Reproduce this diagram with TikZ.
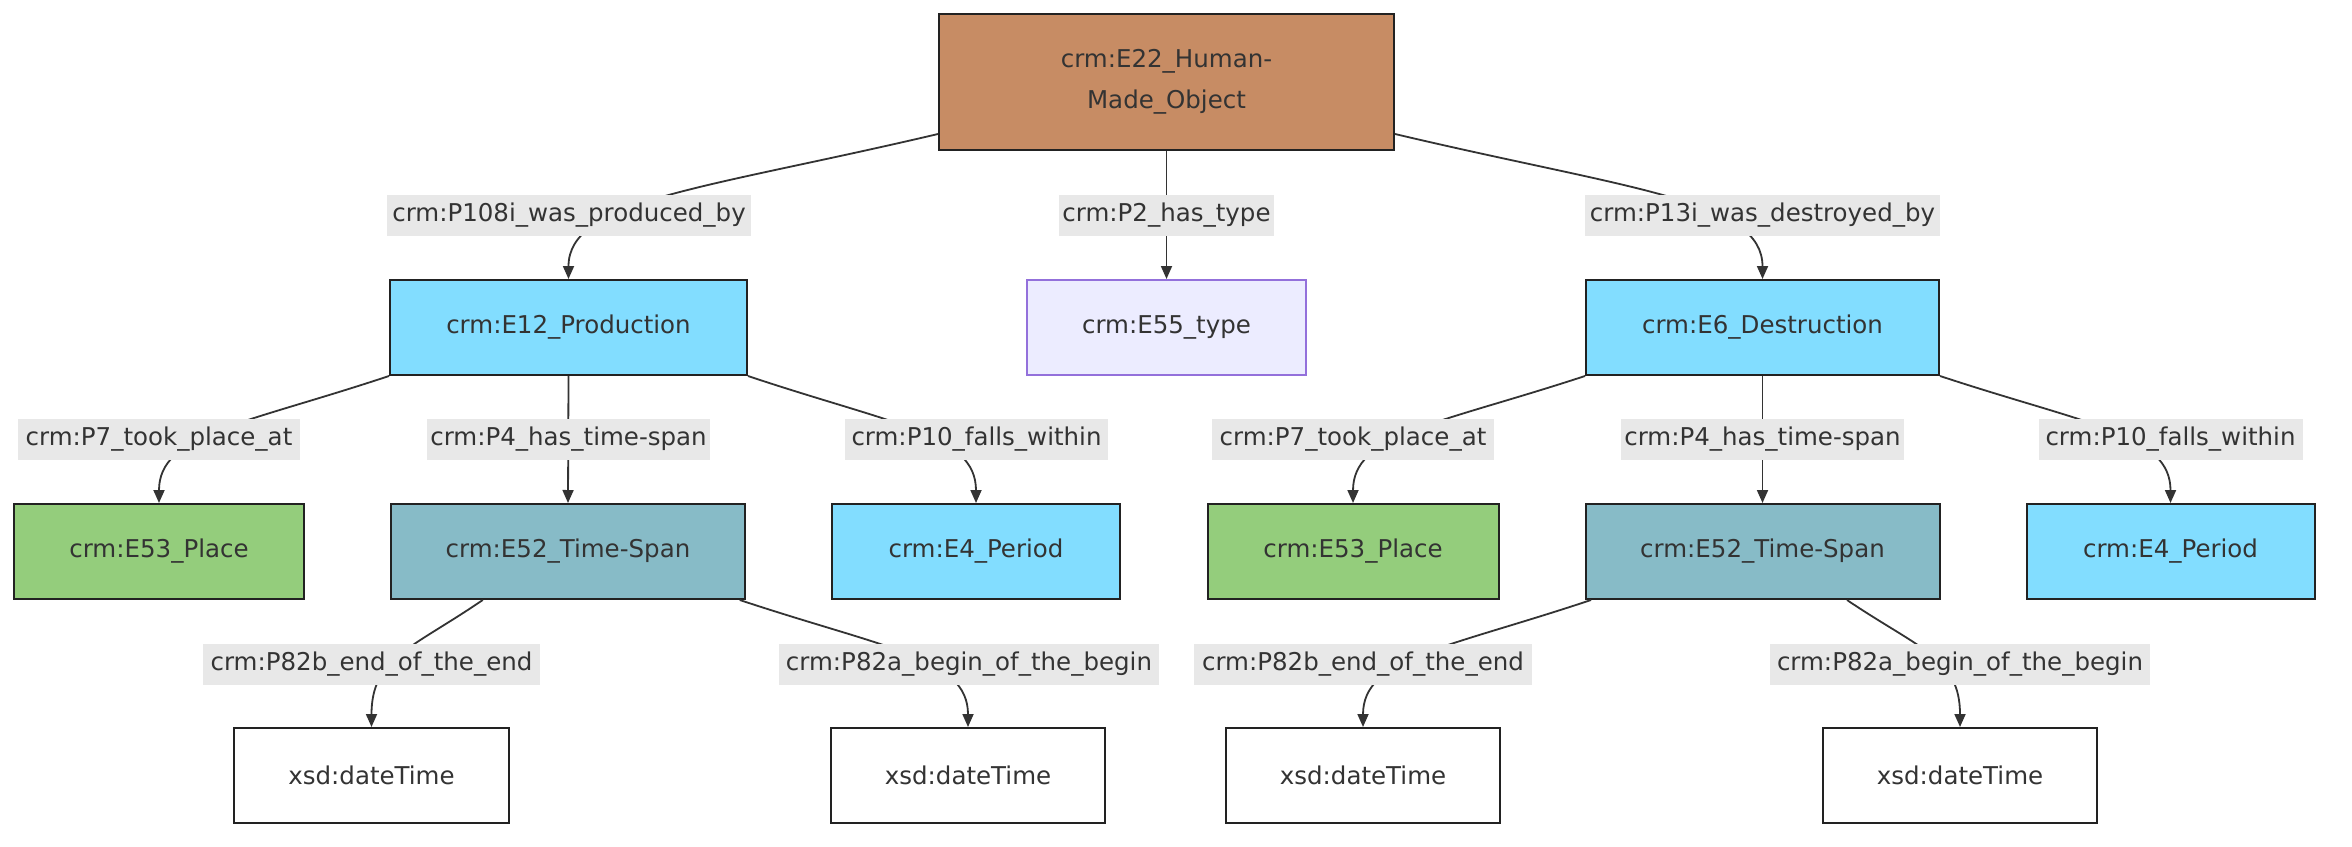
\documentclass[tikz,border=0pt]{standalone}
\usepackage{fontspec}
\setmainfont{DejaVu Sans}
\usetikzlibrary{arrows.meta,calc}
\definecolor{brownE}{HTML}{C78C64}
\definecolor{cyanE}{HTML}{82DDFF}
\definecolor{greenE}{HTML}{94CD7C}
\definecolor{tealE}{HTML}{87BBC7}
\definecolor{lavE}{HTML}{ECECFF}
\definecolor{lavLine}{HTML}{9370DB}
\definecolor{boxline}{HTML}{222222}
\definecolor{txt}{HTML}{333333}
\definecolor{edgec}{HTML}{333333}
\definecolor{lblbg}{HTML}{E8E8E8}
\newcommand{\dfont}{\fontsize{24.5}{41}\selectfont}
\begin{document}
\begin{tikzpicture}[x=1pt,y=-1pt,
  box/.style={draw=boxline, line width=2pt, minimum height=95pt, inner sep=0pt, font=\dfont, text=txt},
  lbl/.style={fill=lblbg, inner sep=0pt, minimum height=41pt, font=\dfont, text=txt},
  edge/.style={draw=edgec, line width=1.8pt, -{Triangle[length=13pt,width=11pt]}}]
\useasboundingbox (0,0) rectangle (2352,846);
\fill[white] (0,0) rectangle (2352,846);
% nodes
\node[box, fill=brownE, minimum width=455pt, minimum height=136pt, align=center] (e22) at (1166.5,82) {crm:E22\_Human-\\Made\_Object};
\node[box, fill=cyanE, minimum width=357pt] (e12) at (568.5,327.5) {crm:E12\_Production};
\node[box, fill=lavE, draw=lavLine, minimum width=279pt] (e55) at (1166.5,327.5) {crm:E55\_type};
\node[box, fill=cyanE, minimum width=353pt] (e6) at (1762.5,327.5) {crm:E6\_Destruction};
\node[box, fill=greenE, minimum width=290.5pt] (pl1) at (159,551.5) {crm:E53\_Place};
\node[box, fill=tealE, minimum width=353.5pt] (ts1) at (568,551.5) {crm:E52\_Time-Span};
\node[box, fill=cyanE, minimum width=287.5pt] (pe1) at (976,551.5) {crm:E4\_Period};
\node[box, fill=greenE, minimum width=291pt] (pl2) at (1353,551.5) {crm:E53\_Place};
\node[box, fill=tealE, minimum width=354pt] (ts2) at (1762.5,551.5) {crm:E52\_Time-Span};
\node[box, fill=cyanE, minimum width=288pt] (pe2) at (2170.5,551.5) {crm:E4\_Period};
\node[box, fill=white, minimum width=275pt] (d1) at (371.5,775.5) {xsd:dateTime};
\node[box, fill=white, minimum width=274.5pt] (d2) at (968,775.5) {xsd:dateTime};
\node[box, fill=white, minimum width=274.5pt] (d3) at (1363,775.5) {xsd:dateTime};
\node[box, fill=white, minimum width=274.5pt] (d4) at (1960,775.5) {xsd:dateTime};
% edges
\draw[edge] ($(e22.south west)+(0,-17)$) .. controls (700,190) and (568.5,200) .. (e12.north);
\draw[edge] (e22.south) -- (e55.north);
\draw[edge] ($(e22.south east)+(0,-17)$) .. controls (1631.7,190) and (1762.5,200) .. (e6.north);
\draw[edge] (e12.south west) .. controls (241.5,425) and (159,434) .. (pl1.north);
\draw[edge] (e12.south) -- (ts1.north);
\draw[edge] (e12.south east) .. controls (894.3,425) and (976,434) .. (pe1.north);
\draw[edge] (e6.south west) .. controls (1435.7,425) and (1353,434) .. (pl2.north);
\draw[edge] (e6.south) -- (ts2.north);
\draw[edge] (e6.south east) .. controls (2088.3,425) and (2170.5,434) .. (pe2.north);
\draw[edge] ($(ts1.south west)+(92.5,0)$) .. controls (411,649) and (371.5,658) .. (d1.north);
\draw[edge] ($(ts1.south east)+(-6,0)$) .. controls (887.4,649) and (968,658) .. (d2.north);
\draw[edge] ($(ts2.south west)+(6.5,0)$) .. controls (1444.3,649) and (1363,658) .. (d3.north);
\draw[edge] ($(ts2.south east)+(-93.5,0)$) .. controls (1919.5,649) and (1960,658) .. (d4.north);
% labels
\node[lbl, minimum width=364pt] (l1) at (569,215.5) {crm:P108i\_was\_produced\_by};
\node[lbl, minimum width=215pt] (l2) at (1166.5,215.5) {crm:P2\_has\_type};
\node[lbl, minimum width=355pt] (l3) at (1762.5,215.5) {crm:P13i\_was\_destroyed\_by};
\node[lbl, minimum width=282pt] (l4) at (159,439.5) {crm:P7\_took\_place\_at};
\node[lbl, minimum width=283pt] (l5) at (568.5,439.5) {crm:P4\_has\_time-span};
\node[lbl, minimum width=263pt] (l6) at (976.5,439.5) {crm:P10\_falls\_within};
\node[lbl, minimum width=282pt] (l7) at (1353,439.5) {crm:P7\_took\_place\_at};
\node[lbl, minimum width=283pt] (l8) at (1762.5,439.5) {crm:P4\_has\_time-span};
\node[lbl, minimum width=264pt] (l9) at (2170.5,439.5) {crm:P10\_falls\_within};
\node[lbl, minimum width=337pt] (l10) at (371.5,664) {crm:P82b\_end\_of\_the\_end};
\node[lbl, minimum width=380pt] (l11) at (969,664) {crm:P82a\_begin\_of\_the\_begin};
\node[lbl, minimum width=338pt] (l12) at (1363,664) {crm:P82b\_end\_of\_the\_end};
\node[lbl, minimum width=380pt] (l13) at (1960,664) {crm:P82a\_begin\_of\_the\_begin};
\end{tikzpicture}
\end{document}
